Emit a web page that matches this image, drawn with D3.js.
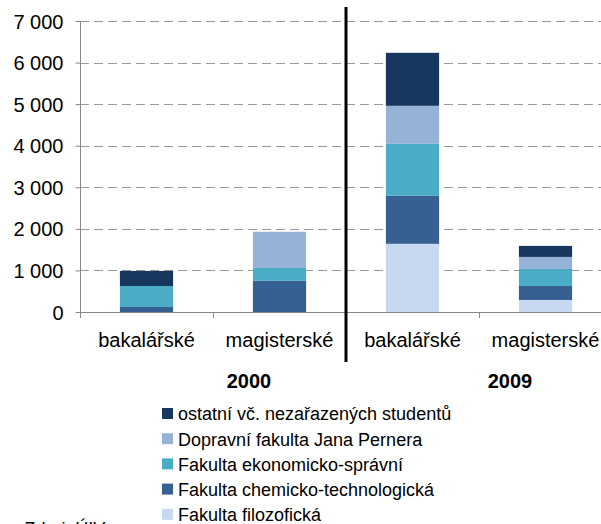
<!DOCTYPE html>
<html>
<head>
<meta charset="utf-8">
<script src="https://cdn.jsdelivr.net/npm/d3@7"></script>
<style>
  body { margin: 0; background: #fff; }
  svg { font-family: "Liberation Sans", Arial, sans-serif; }
</style>
</head>
<body>
<div id="chart"></div>
<script>
// categories (study type x year)
var categories = ["2000|bak", "2000|mag", "2009|bak", "2009|mag"];
var catLabels = ["bakalářské", "magisterské", "bakalářské", "magisterské"];
var years = ["2000", "2009"];

// series values, bottom to top
var filozoficka = [0, 0, 1640, 290];
var chemicka = [120, 750, 1155, 335];
var ekonomicka = [506, 310, 1250, 410];
var dopravni = [0, 870, 915, 290];
var ostatni = [362, 0, 1275, 265];

var seriesNames = [
    "Fakulta filozofická",
    "Fakulta chemicko-technologická",
    "Fakulta ekonomicko-správní",
    "Dopravní fakulta Jana Pernera",
    "ostatní vč. nezařazených studentů"
];
var seriesColors = ["#c6d9f0", "#366092", "#4bacc6", "#95b3d7", "#17375e"];
var yTicks = [0, 1000, 2000, 3000, 4000, 5000, 6000, 7000];

// layout settings
var W = 601, H = 524;
var plot = {left: 80, right: 612, top: 21, bottom: 312};

// build table for stacking
var table = categories.map(function (c, i) {
    return {cat: c, s0: filozoficka[i], s1: chemicka[i], s2: ekonomicka[i],
        s3: dopravni[i], s4: ostatni[i]};
});
var stack = d3.stack().keys(["s0", "s1", "s2", "s3", "s4"])(table);

var svg = d3.select("#chart").append("svg")
        .attr("width", W).attr("height", H);

var x = d3.scaleBand().domain(categories).range([plot.left, plot.right])
        .paddingInner(0.6).paddingOuter(0.3);
var xb = d3.scaleBand().domain(categories).range([plot.left, plot.right]);
var y = d3.scaleLinear().domain([0, 7000]).range([plot.bottom, plot.top]);

var fmt = function (v) {
    return d3.format(",")(v).replace(/,/g, " ");
};

// gridlines
svg.append("g").selectAll("line").data(yTicks.slice(1)).enter().append("line")
        .attr("x1", plot.left).attr("x2", plot.right)
        .attr("y1", function (d) { return Math.round(y(d)) + 0.5; })
        .attr("y2", function (d) { return Math.round(y(d)) + 0.5; })
        .attr("stroke", "#999").attr("stroke-dasharray", "9,5");

// bars
svg.append("g").selectAll("g").data(stack).enter().append("g")
        .attr("fill", function (d, i) { return seriesColors[i]; })
        .selectAll("rect").data(function (d) { return d; }).enter().append("rect")
        .attr("x", function (d) { return x(d.data.cat); })
        .attr("width", x.bandwidth())
        .attr("y", function (d) { return y(d[1]); })
        .attr("height", function (d) { return y(d[0]) - y(d[1]); });

// y axis
var yaxis = d3.axisLeft(y).tickValues(yTicks).tickFormat(fmt).tickSize(5);
var gy = svg.append("g").attr("transform", "translate(" + (plot.left + 0.5) + ",0)")
        .call(yaxis);
gy.select("path.domain").attr("stroke", "#888")
        .attr("d", "M0," + plot.top + "V" + plot.bottom);
gy.selectAll(".tick line").attr("stroke", "#888");
gy.selectAll(".tick text").attr("x", -17).attr("dy", "0.35em")
        .attr("font-size", 20).attr("fill", "#000")
        .attr("font-family", "Liberation Sans, Arial, sans-serif");

// x axis line and boundary ticks
var gx = svg.append("g");
gx.append("line").attr("x1", plot.left).attr("x2", plot.right)
        .attr("y1", plot.bottom + 0.5).attr("y2", plot.bottom + 0.5)
        .attr("stroke", "#888");
gx.selectAll("line.tk").data(categories).enter().append("line")
        .attr("class", "tk")
        .attr("x1", function (d) { return Math.round(xb(d)) + 0.5; })
        .attr("x2", function (d) { return Math.round(xb(d)) + 0.5; })
        .attr("y1", plot.bottom).attr("y2", plot.bottom + 6)
        .attr("stroke", "#888");

// category labels
gx.selectAll("text.cat").data(categories).enter().append("text")
        .attr("class", "cat")
        .attr("x", function (d) { return xb(d) + xb.bandwidth() / 2; })
        .attr("y", 347).attr("text-anchor", "middle").attr("font-size", 20)
        .text(function (d, i) { return catLabels[i]; });

// year labels
var yearX = [249, 510];
svg.selectAll("text.year").data(years).enter().append("text")
        .attr("class", "year")
        .attr("x", function (d, i) { return yearX[i]; })
        .attr("y", 388).attr("text-anchor", "middle")
        .attr("font-size", 20).attr("font-weight", "bold")
        .text(function (d) { return d; });

// divider between years
svg.append("line")
        .attr("x1", xb(categories[2])).attr("x2", xb(categories[2]))
        .attr("y1", 7).attr("y2", 362)
        .attr("stroke", "#000").attr("stroke-width", 3);

// legend (top series first)
var legend = svg.append("g").attr("transform", "translate(162,414)");
var order = [4, 3, 2, 1, 0];
var items = legend.selectAll("g").data(order).enter().append("g")
        .attr("transform", function (d, i) { return "translate(0," + (i * 25.2) + ")"; });
items.append("rect").attr("x", 0).attr("y", -6).attr("width", 11).attr("height", 11)
        .attr("fill", function (d) { return seriesColors[d]; });
items.append("text").attr("x", 16).attr("y", 0).attr("dy", "0.35em")
        .attr("font-size", 18)
        .text(function (d) { return seriesNames[d]; });

// source note (cut off at bottom)
svg.append("text").attr("x", 23).attr("y", 535)
        .attr("font-size", 18).attr("font-style", "italic")
        .text("Zdroj: ÚIV");
</script>
</body>
</html>
